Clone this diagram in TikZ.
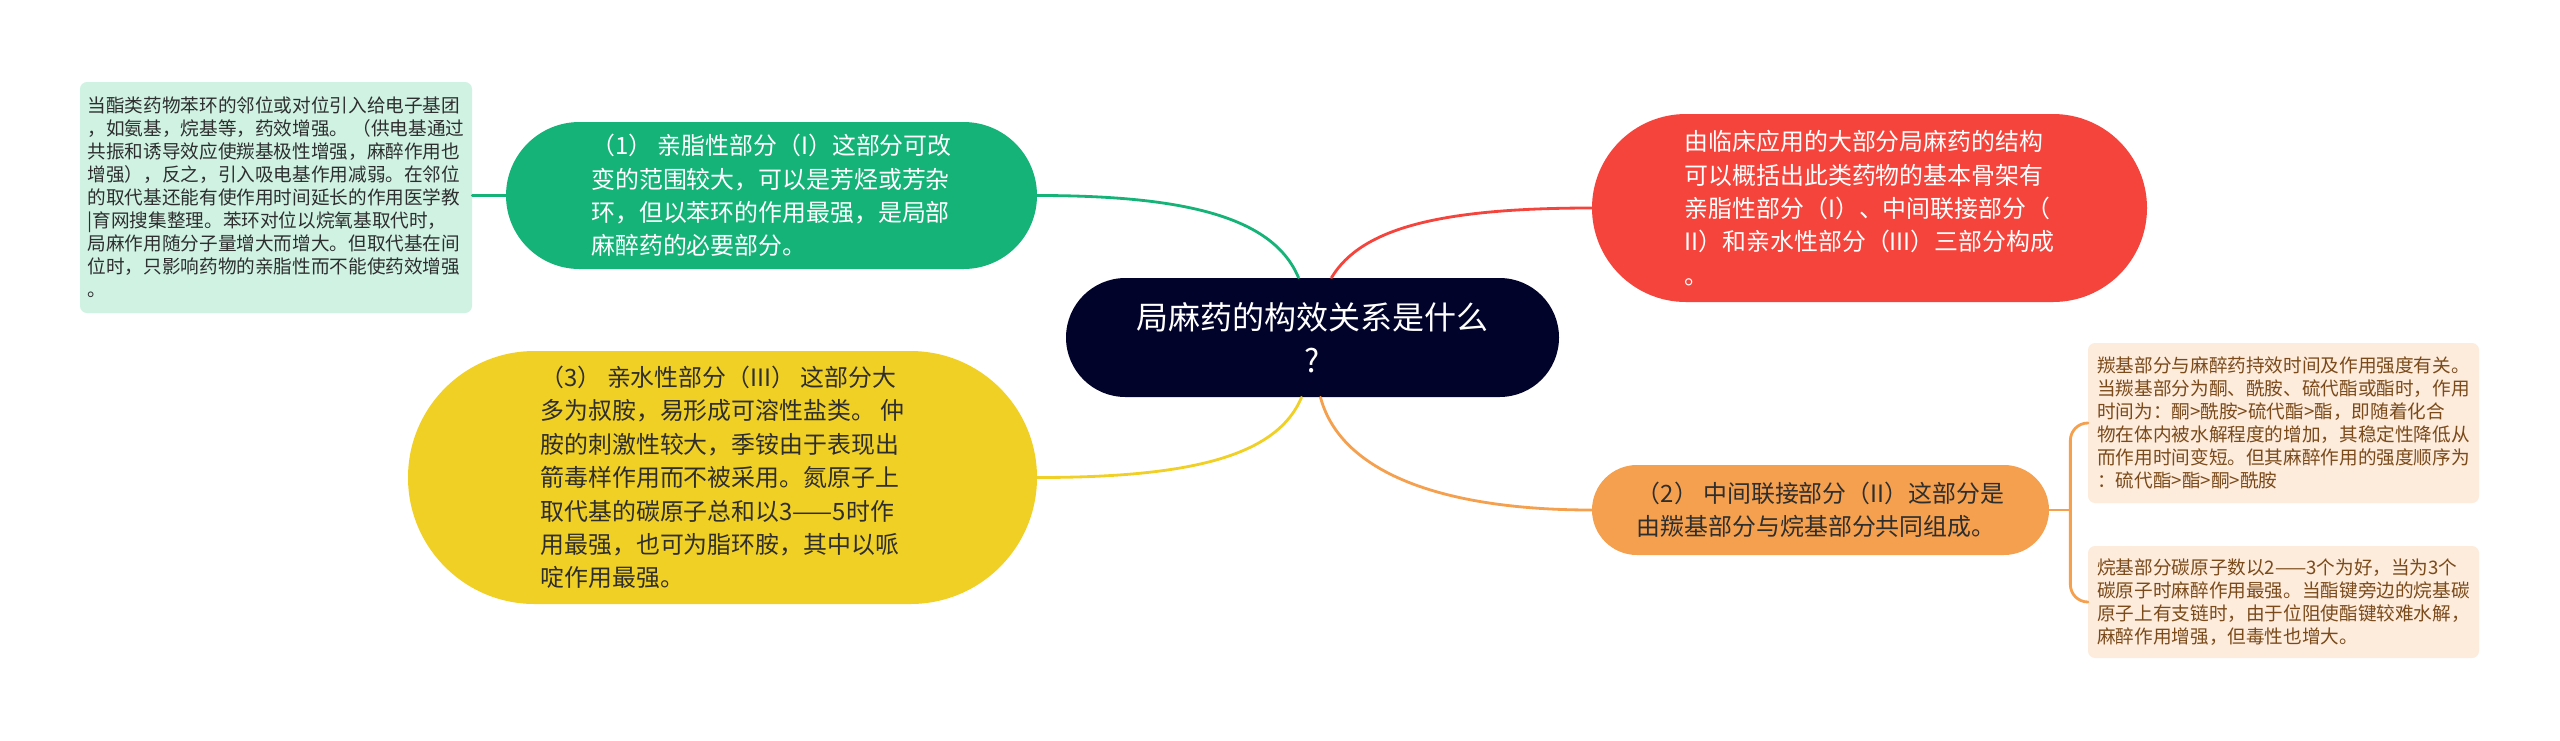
\documentclass[tikz,border=0pt]{standalone}
\usepackage{fontspec}
\setmainfont{Noto Sans CJK SC}
\usetikzlibrary{positioning,calc,shapes.misc}
\definecolor{cnavy}{HTML}{02032B}
\definecolor{cgreen}{HTML}{15B377}
\definecolor{cred}{HTML}{F5443C}
\definecolor{cyellow}{HTML}{F1D026}
\definecolor{corange}{HTML}{F4A04E}
\definecolor{cmint}{HTML}{CFF2E3}
\definecolor{cpeach}{HTML}{FDEBDC}
\definecolor{cbrown}{HTML}{7A4A1A}
\definecolor{cink}{HTML}{2E2E2E}
\newcommand\mmtitle{\fontsize{18.2}{24.5}\selectfont}
\newcommand\mmbody{\fontsize{13.6}{19}\selectfont}
\newcommand\mmnote{\fontsize{10.6}{13.1}\selectfont}
\tikzset{
  every picture/.style={line cap=round, line join=round},
  hub/.style={rectangle, fill=cnavy, text=white, rounded corners=1.19cm,
    minimum height=2.38cm, align=center, inner sep=0pt, font=\mmtitle},
  pill/.style={rectangle, rounded corners=#1, minimum height=2*#1,
    align=left, inner sep=0pt, font=\mmbody},
  note/.style={rectangle, rounded corners=4pt, align=left, inner sep=0pt,
    font=\mmnote},
  branch/.style={line width=1.6pt},
}
\begin{document}
\begin{tikzpicture}
  \useasboundingbox (0,0) rectangle (51.2,-14.8);
  \fill[white] (0,0) rectangle (51.2,-14.8);

  % ---------------- centre ----------------
  \node[hub, minimum width=9.86cm] (ctr) at (26.25,-6.75)
    {局麻药的构效关系是什么\\?};

  % ---------------- left side ----------------
  \node[pill=1.47cm, fill=cgreen, text=white, minimum width=10.62cm] (lipo) at (15.43,-3.91)
    {（1） 亲脂性部分（I）这部分可改\\变的范围较大，可以是芳烃或芳杂\\环，但以苯环的作用最强，是局部\\麻醉药的必要部分。};
  \node[note, fill=cmint, text=cink, minimum width=7.84cm, minimum height=4.62cm] (lnote) at (5.52,-3.95)
    {当酯类药物苯环的邻位或对位引入给电子基团\\，如氨基，烷基等，药效增强。 （供电基通过\\共振和诱导效应使羰基极性增强，麻醉作用也\\增强），反之，引入吸电基作用减弱。在邻位\\的取代基还能有使作用时间延长的作用医学教\\|育网搜集整理。苯环对位以烷氧基取代时，\\局麻作用随分子量增大而增大。但取代基在间\\位时，只影响药物的亲脂性而不能使药效增强\\。};
  \node[pill=2.53cm, fill=cyellow, text=cink, minimum width=12.58cm] (hydro) at (14.45,-9.55)
    {（3） 亲水性部分（III） 这部分大\\多为叔胺，易形成可溶性盐类。 仲\\胺的刺激性较大，季铵由于表现出\\箭毒样作用而不被采用。氮原子上\\取代基的碳原子总和以3——5时作\\用最强，也可为脂环胺，其中以哌\\啶作用最强。};

  % ---------------- right side ----------------
  \node[pill=1.88cm, fill=cred, text=white, minimum width=11.1cm] (intro) at (37.39,-4.16)
    {由临床应用的大部分局麻药的结构\\可以概括出此类药物的基本骨架有\\亲脂性部分（I）、中间联接部分（\\II）和亲水性部分（III）三部分构成\\。};
  \node[pill=0.9cm, fill=corange, text=cink, minimum width=9.14cm] (mid) at (36.41,-10.2)
    {（2） 中间联接部分（II）这部分是\\由羰基部分与烷基部分共同组成。};
  \node[note, fill=cpeach, text=cbrown, minimum width=7.82cm, minimum height=3.2cm] (carb) at (45.67,-8.46)
    {羰基部分与麻醉药持效时间及作用强度有关。\\当羰基部分为酮、酰胺、硫代酯或酯时，作用\\时间为：酮>酰胺>硫代酯>酯，即随着化合\\物在体内被水解程度的增加，其稳定性降低从\\而作用时间变短。但其麻醉作用的强度顺序为\\：硫代酯>酯>酮>酰胺};
  \node[note, fill=cpeach, text=cbrown, minimum width=7.82cm, minimum height=2.24cm] (alkyl) at (45.67,-12.04)
    {烷基部分碳原子数以2——3个为好，当为3个\\碳原子时麻醉作用最强。当酯键旁边的烷基碳\\原子上有支链时，由于位阻使酯键较难水解，\\麻醉作用增强，但毒性也增大。};

  % ---------------- connectors ----------------
  \draw[branch, cgreen] ($(ctr.north)+(-0.28,0)$) .. controls +(-0.5,1.2) and +(3,0) .. (lipo.east);
  \draw[branch, cred] ($(ctr.north)+(0.38,0)$) .. controls +(0.6,1.0) and +(-3,0) .. (intro.west);
  \draw[branch, cyellow] ($(ctr.south)+(-0.22,0)$) .. controls +(-0.5,-1.2) and +(3,0) .. (hydro.east);
  \draw[branch, corange] ($(ctr.south)+(0.16,0)$) .. controls +(0.4,-1.5) and +(-3,0) .. (mid.west);
  \draw[branch, cgreen] (lipo.west) -- (lipo.west -| lnote.east);
  \coordinate (fork) at ($(mid.east)+(0.42,0)$);
  \draw[branch, corange] (mid.east) -- (fork);
  \draw[branch, corange, rounded corners=0.35cm] (fork) |- (carb.west);
  \draw[branch, corange, rounded corners=0.35cm] (fork) |- (alkyl.west);
\end{tikzpicture}
\end{document}
